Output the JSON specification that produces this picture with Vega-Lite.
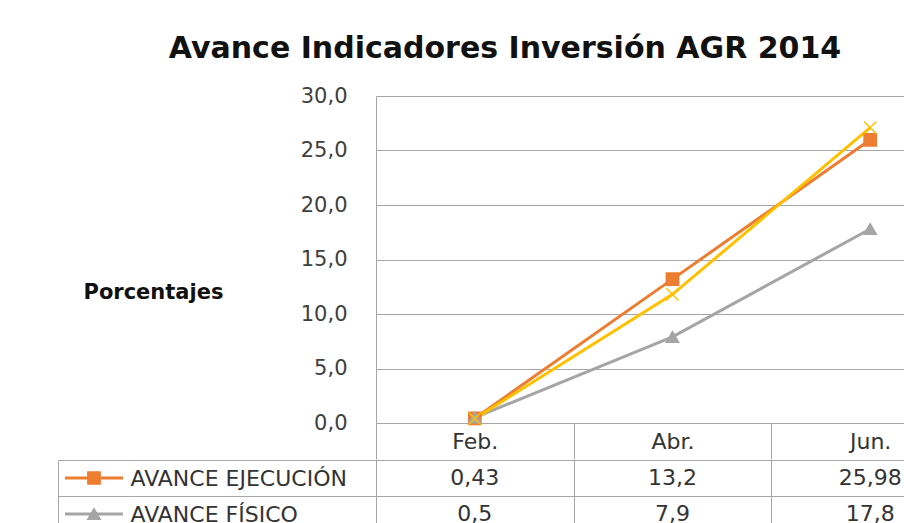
{
  "$schema": "https://vega.github.io/schema/vega-lite/v6.json",
  "padding": {"left": 58, "top": 33, "right": 0, "bottom": 0},
  "background": "#ffffff",
  "title": {
    "text": "Avance Indicadores Inversión AGR 2014",
    "font": "DejaVu Sans",
    "fontSize": 30,
    "fontWeight": "bold",
    "color": "#111111",
    "anchor": "middle",
    "offset": 21,
    "dx": -9
  },
  "config": {
    "locale": {"number": {"decimal": ",", "thousands": ".", "grouping": [3], "currency": ["$", ""]}},
    "view": {"stroke": "#a6a6a6"},
    "axis": {"gridColor": "#a6a6a6", "gridOpacity": 1, "domainColor": "#a6a6a6", "tickColor": "#a6a6a6"}
  },
  "datasets": {
    "valores": [
      {"mes": "Feb.", "serie": "AVANCE EJECUCIÓN", "valor": 0.43},
      {"mes": "Abr.", "serie": "AVANCE EJECUCIÓN", "valor": 13.2},
      {"mes": "Jun.", "serie": "AVANCE EJECUCIÓN", "valor": 25.98},
      {"mes": "Feb.", "serie": "AVANCE FÍSICO", "valor": 0.5},
      {"mes": "Abr.", "serie": "AVANCE FÍSICO", "valor": 7.9},
      {"mes": "Jun.", "serie": "AVANCE FÍSICO", "valor": 17.8},
      {"mes": "Feb.", "serie": "AVANCE FINANCIERO", "valor": 0.4},
      {"mes": "Abr.", "serie": "AVANCE FINANCIERO", "valor": 11.8},
      {"mes": "Jun.", "serie": "AVANCE FINANCIERO", "valor": 27.1}
    ]
  },
  "bounds": "full",
  "spacing": -14,
  "vconcat": [
    {
      "bounds": "flush",
      "spacing": 0,
      "hconcat": [
        {
          "width": 318,
          "height": 327,
          "data": {"values": []},
          "mark": "point",
          "view": {"stroke": null}
        },
        {
          "width": 593,
          "height": 327,
          "data": {"name": "valores"},
          "encoding": {
            "x": {
              "field": "mes",
              "type": "nominal",
              "sort": ["Feb.", "Abr.", "Jun."],
              "bandPosition": 0.5,
              "scale": {"type": "band", "paddingInner": 0, "paddingOuter": 0},
              "axis": {
                "title": null,
                "orient": "bottom",
                "tickBand": "extent",
                "ticks": true,
                "tickSize": 36,
                "domain": false,
                "grid": false,
                "labelAngle": 0,
                "labelFont": "DejaVu Sans",
                "labelFontSize": 22,
                "labelColor": "#333333",
                "labelBaseline": "middle",
                "labelPadding": -18
              }
            },
            "y": {
              "field": "valor",
              "type": "quantitative",
              "scale": {"domain": [0, 30], "nice": false},
              "axis": {
                "values": [0, 5, 10, 15, 20, 25, 30],
                "format": ".1f",
                "grid": true,
                "ticks": false,
                "domain": false,
                "labelFont": "DejaVu Sans",
                "labelFontSize": 21,
                "labelColor": "#404040",
                "labelPadding": 29,
                "title": "Porcentajes",
                "titleAngle": 0,
                "titleFont": "DejaVu Sans",
                "titleFontSize": 21,
                "titleFontWeight": "bold",
                "titleColor": "#111111",
                "titleAlign": "left",
                "titleBaseline": "alphabetic",
                "titleX": -293,
                "titleY": 202
              }
            }
          },
          "layer": [
            {
              "mark": {"type": "line", "strokeWidth": 3},
              "encoding": {
                "color": {
                  "field": "serie",
                  "type": "nominal",
                  "scale": {"domain": ["AVANCE EJECUCIÓN", "AVANCE FÍSICO", "AVANCE FINANCIERO"], "range": ["#ED7D31", "#A5A5A5", "#FFC000"]},
                  "legend": null
                }
              }
            },
            {
              "mark": {"type": "point", "filled": true, "opacity": 1, "size": 150, "strokeWidth": 1.5},
              "encoding": {
                "color": {
                  "field": "serie",
                  "type": "nominal",
                  "scale": {"domain": ["AVANCE EJECUCIÓN", "AVANCE FÍSICO", "AVANCE FINANCIERO"], "range": ["#ED7D31", "#A5A5A5", "#FFC000"]},
                  "legend": null
                },
                "stroke": {
                  "field": "serie",
                  "type": "nominal",
                  "scale": {"domain": ["AVANCE EJECUCIÓN", "AVANCE FÍSICO", "AVANCE FINANCIERO"], "range": ["#ED7D31", "#A5A5A5", "#FFC000"]},
                  "legend": null
                },
                "shape": {
                  "field": "serie",
                  "type": "nominal",
                  "scale": {"domain": ["AVANCE EJECUCIÓN", "AVANCE FÍSICO", "AVANCE FINANCIERO"], "range": ["square", "triangle-up", "M-1,-1L1,1M-1,1L1,-1"]},
                  "legend": null
                }
              }
            }
          ]
        }
      ]
    },
    {
      "bounds": "flush",
      "spacing": 0,
      "hconcat": [
        {
          "width": 72,
          "height": 108,
          "data": {"name": "valores"},
          "transform": [{"filter": "datum.mes == 'Feb.'"}],
          "view": {"stroke": null},
          "encoding": {
            "y": {
              "field": "serie",
              "type": "nominal",
              "sort": ["AVANCE EJECUCIÓN", "AVANCE FÍSICO", "AVANCE FINANCIERO"],
              "scale": {"type": "band", "paddingInner": 0, "paddingOuter": 0},
              "axis": {"title": null, "labels": false, "ticks": false, "domain": true, "grid": true, "tickBand": "extent"}
            }
          },
          "layer": [
            {
              "mark": {"type": "tick", "orient": "horizontal", "size": 58, "thickness": 3, "opacity": 1},
              "encoding": {
                "color": {
                  "field": "serie",
                  "type": "nominal",
                  "scale": {"domain": ["AVANCE EJECUCIÓN", "AVANCE FÍSICO", "AVANCE FINANCIERO"], "range": ["#ED7D31", "#A5A5A5", "#FFC000"]},
                  "legend": null
                }
              }
            },
            {
              "mark": {"type": "point", "filled": true, "opacity": 1, "size": 150, "strokeWidth": 1.5},
              "encoding": {
                "color": {
                  "field": "serie",
                  "type": "nominal",
                  "scale": {"domain": ["AVANCE EJECUCIÓN", "AVANCE FÍSICO", "AVANCE FINANCIERO"], "range": ["#ED7D31", "#A5A5A5", "#FFC000"]},
                  "legend": null
                },
                "stroke": {
                  "field": "serie",
                  "type": "nominal",
                  "scale": {"domain": ["AVANCE EJECUCIÓN", "AVANCE FÍSICO", "AVANCE FINANCIERO"], "range": ["#ED7D31", "#A5A5A5", "#FFC000"]},
                  "legend": null
                },
                "shape": {
                  "field": "serie",
                  "type": "nominal",
                  "scale": {"domain": ["AVANCE EJECUCIÓN", "AVANCE FÍSICO", "AVANCE FINANCIERO"], "range": ["square", "triangle-up", "M-1,-1L1,1M-1,1L1,-1"]},
                  "legend": null
                }
              }
            }
          ]
        },
        {
          "width": 246,
          "height": 108,
          "data": {"name": "valores"},
          "transform": [{"filter": "datum.mes == 'Feb.'"}],
          "view": {"stroke": null},
          "mark": {"type": "point", "opacity": 0},
          "encoding": {
            "y": {
              "field": "serie",
              "type": "nominal",
              "sort": ["AVANCE EJECUCIÓN", "AVANCE FÍSICO", "AVANCE FINANCIERO"],
              "scale": {"type": "band", "paddingInner": 0, "paddingOuter": 0},
              "axis": {
                "title": null,
                "labels": true,
                "labelAlign": "left",
                "labelBaseline": "middle",
                "labelPadding": 0,
                "labelLimit": 400,
                "labelFont": "DejaVu Sans",
                "labelFontSize": 22,
                "labelColor": "#333333",
                "ticks": false,
                "domain": false,
                "grid": true,
                "tickBand": "extent"
              }
            }
          }
        },
        {
          "width": 593,
          "height": 108,
          "data": {"name": "valores"},
          "mark": {"type": "text", "font": "DejaVu Sans", "fontSize": 22, "color": "#333333", "baseline": "middle", "align": "center"},
          "encoding": {
            "x": {
              "field": "mes",
              "type": "nominal",
              "sort": ["Feb.", "Abr.", "Jun."],
              "scale": {"type": "band", "paddingInner": 0, "paddingOuter": 0},
              "axis": {"title": null, "labels": false, "ticks": false, "domain": false, "grid": true, "tickBand": "extent"}
            },
            "y": {
              "field": "serie",
              "type": "nominal",
              "sort": ["AVANCE EJECUCIÓN", "AVANCE FÍSICO", "AVANCE FINANCIERO"],
              "scale": {"type": "band", "paddingInner": 0, "paddingOuter": 0},
              "axis": {"title": null, "labels": false, "ticks": false, "domain": false, "grid": true, "tickBand": "extent"}
            },
            "text": {"field": "valor", "type": "quantitative", "format": ".2~f"}
          }
        }
      ]
    }
  ]
}
